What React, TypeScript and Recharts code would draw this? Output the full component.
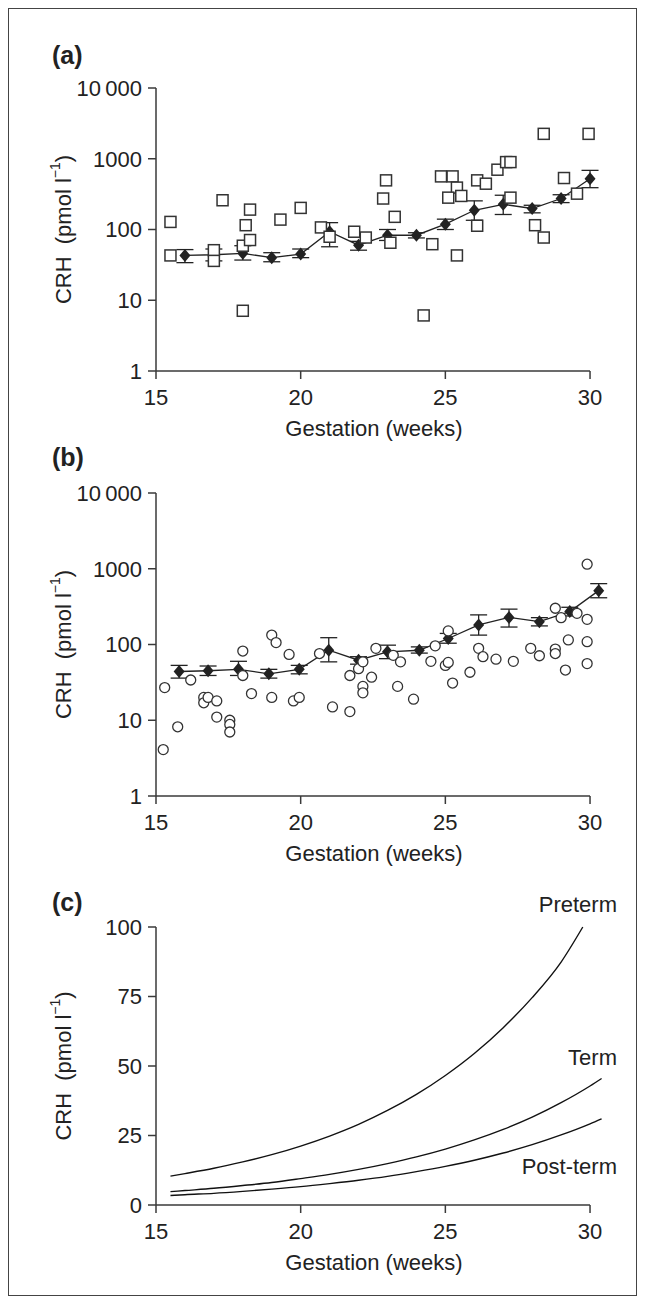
import React from 'react';
import { ScatterChart, Scatter, XAxis, YAxis, ErrorBar, LineChart, Line, Label, ReferenceLine } from 'recharts';

const FONT = '"Liberation Sans", Arial, Helvetica, sans-serif';
const INK = '#222';
const AXIS = '#3a3a3a';

const xTicks = [15, 20, 25, 30];
const logTicks = [1, 10, 100, 1000, 10000];
const linTicks = [0, 25, 50, 75, 100];

// Panel (a): individual values (squares)
const aPoints = [
  [15.5, 128], [15.5, 43], [17.0, 51], [17.0, 36], [17.3, 259], [18.0, 59], [18.0, 7.1],
  [18.1, 115], [18.25, 191], [18.25, 71], [19.3, 138], [20.0, 202], [20.7, 107], [21.0, 79],
  [21.85, 93], [22.25, 77], [22.95, 495], [22.85, 274], [23.25, 151], [23.1, 65], [24.25, 6.1],
  [24.55, 62], [24.85, 563], [25.25, 563], [25.4, 391], [25.1, 282], [25.55, 298], [25.4, 43],
  [26.1, 495], [26.4, 444], [26.1, 113], [26.8, 700], [27.1, 897], [27.25, 897], [27.25, 282],
  [28.4, 2249], [28.1, 115], [28.4, 77], [29.1, 534], [29.55, 321], [29.95, 2249],
];
// Panel (a): means with error bars
const aMeanX = [16, 17, 18, 19, 20, 21, 22, 23, 24, 25, 26, 27, 28, 29, 30];
const aMeanY = [43, 44, 46, 40, 45, 93, 60, 83, 83, 119, 187, 227, 198, 274, 522];
const aMeanLo = [34, 36, 37, 35, 40, 57, 51, 70, 76, 100, 135, 163, 172, 240, 390];
const aMeanHi = [52, 53, 59, 47, 53, 125, 68, 100, 90, 140, 254, 305, 220, 310, 685];

// Panel (b): individual values (circles)
const bPoints = [
  [15.25, 4.1], [15.3, 27], [15.75, 8.2], [16.2, 34], [16.65, 20], [16.65, 17], [16.8, 20],
  [17.1, 18], [17.1, 11], [17.55, 10], [17.55, 8.8], [17.55, 7.0], [18.0, 82], [18.0, 39],
  [18.3, 22.5], [19.0, 133], [19.15, 106], [19.0, 20], [19.6, 74], [19.75, 18], [19.95, 20],
  [20.65, 76], [21.1, 15], [21.7, 39], [21.7, 13], [22.0, 48], [22.15, 59], [22.15, 28],
  [22.15, 23], [22.45, 37], [22.6, 89], [23.2, 72], [23.45, 59], [23.35, 28], [23.9, 19],
  [24.5, 60], [24.65, 96], [25.0, 53], [25.1, 58], [25.1, 151], [25.25, 31], [25.85, 43],
  [26.15, 89], [26.3, 69], [26.75, 64], [27.35, 60], [27.95, 89], [28.25, 71], [28.8, 301],
  [28.8, 87], [28.8, 76], [29.0, 226], [29.25, 115], [29.15, 46], [29.55, 258], [29.9, 1148],
  [29.9, 215], [29.9, 109], [29.9, 56],
];
// Panel (b): means with error bars
const bMeanX = [15.8, 16.8, 17.85, 18.9, 19.95, 20.97, 22.0, 23.0, 24.1, 25.1, 26.15, 27.2, 28.25, 29.3, 30.3];
const bMeanY = [44, 45, 47, 41, 47, 84, 62, 80, 84, 120, 181, 228, 200, 272, 514];
const bMeanLo = [36, 39, 39, 36, 41, 59, 55, 65, 77, 104, 133, 170, 176, 238, 414];
const bMeanHi = [53, 52, 60, 47, 53, 123, 69, 98, 93, 140, 246, 293, 226, 310, 636];

// Panel (c): fitted curves
const cX = [15.5, 16, 17, 18, 19, 20, 21, 22, 23, 24, 25, 26, 27, 28, 29, 30, 30.4];
const pretermX = [15.5, 16, 17, 18, 19, 20, 21, 22, 23, 24, 25, 26, 27, 28, 29, 29.75];
const pretermY = [10.4, 11.3, 13.2, 15.5, 18.1, 21.2, 24.8, 29.0, 34.0, 39.8, 46.6, 54.5, 63.8, 74.6, 87.4, 100];
const termY = [4.8, 5.2, 6.0, 7.0, 8.1, 9.5, 11.0, 12.8, 14.9, 17.3, 20.1, 23.4, 27.2, 31.6, 36.8, 42.8, 45.5];
const postTermY = [3.4, 3.7, 4.2, 4.9, 5.7, 6.6, 7.7, 8.9, 10.3, 12.0, 13.9, 16.1, 18.7, 21.7, 25.2, 29.2, 31.0];

const toPts = (arr: number[][]) => arr.map(([x, y]) => ({ x, y }));
const toMeans = (xs: number[], ys: number[], lo: number[], hi: number[]) =>
  xs.map((x, i) => ({ x, y: ys[i], err: [ys[i] - lo[i], hi[i] - ys[i]] }));
const toLine = (xs: number[], ys: number[]) => xs.map((x, i) => ({ x, y: ys[i] }));

const aSq = toPts(aPoints);
const aMeans = toMeans(aMeanX, aMeanY, aMeanLo, aMeanHi);
const bCi = toPts(bPoints);
const bMeans = toMeans(bMeanX, bMeanY, bMeanLo, bMeanHi);
const preterm = toLine(pretermX, pretermY);
const term = toLine(cX, termY);
const postTerm = toLine(cX, postTermY);

const Diamond = (p: any) => {
  const { cx, cy } = p;
  return <polygon points={`${cx},${cy - 6.5} ${cx + 5.5},${cy} ${cx},${cy + 6.5} ${cx - 5.5},${cy}`} fill={INK} />;
};
const Square = (p: any) => {
  const { cx, cy } = p;
  return <rect x={cx - 5.5} y={cy - 5.5} width={11} height={11} fill="#fff" stroke="#333" strokeWidth={1.5} />;
};
const Circle = (p: any) => {
  const { cx, cy } = p;
  return <circle cx={cx} cy={cy} r={5} fill="#fff" stroke="#333" strokeWidth={1.3} />;
};

const yTitle = (x: number, y: number) => () => (
  <text x={x} y={y} transform={`rotate(-90 ${x} ${y})`} textAnchor="middle" dominantBaseline="central"
    fontSize={22} fill={INK} fontFamily={FONT}>
    {'CRH\u00a0\u00a0(pmol l'}
    <tspan dy={-8} fontSize={14}>−1</tspan>
    <tspan dy={8}>)</tspan>
  </text>
);

const xTitle = (baseline: number) => () => (
  <text x={365} y={baseline} textAnchor="middle" fontSize={22} fill={INK} fontFamily={FONT}>
    Gestation (weeks)
  </text>
);

const tickStyle = { fontSize: 22, fill: INK, fontFamily: FONT };
const logFmt = (v: number) => (v === 10000 ? '10\u2009000' : String(v));

const W = 627;
const X_DOMAIN: [number, number] = [15, 30.5];
const M_RIGHT = 31.5;

const xAxisEl = (chartHeight: number) => (
  <XAxis
    dataKey="x" type="number" domain={X_DOMAIN} ticks={xTicks} height={72}
    tick={tickStyle} tickSize={8} tickMargin={10}
    axisLine={false} tickLine={{ stroke: AXIS, strokeWidth: 1.5 }}
  >
    <Label content={xTitle(chartHeight - 7)} />
  </XAxis>
);

const xBaseLine = (y: number) => (
  <ReferenceLine segment={[{ x: 15, y }, { x: 30, y }]} stroke={AXIS} strokeWidth={1.5} ifOverflow="visible" />
);

const panelLabel = (text: string, top: number) => (
  <div style={{ position: 'absolute', left: 43, top, fontSize: 25, fontWeight: 'bold', lineHeight: '25px', color: INK, fontFamily: FONT }}>
    {text}
  </div>
);

const curveLabel = (text: string, top: number) => (
  <div style={{ position: 'absolute', left: 408, width: 200, top, textAlign: 'right', fontSize: 22, lineHeight: '22px', color: INK, fontFamily: FONT }}>
    {text}
  </div>
);

export default function App() {
  return (
    <div style={{ position: 'relative', width: W, height: 1286, border: '1px solid #444', fontFamily: FONT, background: '#fff' }}>
      {panelLabel('(a)', 34)}
      {panelLabel('(b)', 436)}
      {panelLabel('(c)', 881)}

      <div style={{ position: 'absolute', left: 0, top: 0 }}>
        <ScatterChart width={W} height={434} margin={{ top: 79, right: M_RIGHT, bottom: 0, left: 0 }}>
          {xAxisEl(434)}
          <YAxis
            dataKey="y" type="number" scale="log" domain={[1, 10000]} ticks={logTicks} width={147}
            tick={tickStyle} tickFormatter={logFmt} tickSize={8} tickMargin={6}
            axisLine={{ stroke: AXIS, strokeWidth: 1.5 }} tickLine={{ stroke: AXIS, strokeWidth: 1.5 }}
          >
            <Label content={yTitle(54, 220.5)} />
          </YAxis>
          {xBaseLine(1)}
          <Scatter data={aMeans} shape={Diamond} line={{ stroke: INK, strokeWidth: 1.3 }} lineType="joint" isAnimationActive={false}>
            <ErrorBar dataKey="err" direction="y" width={8.5} stroke={INK} strokeWidth={1.3} isAnimationActive={false} />
          </Scatter>
          <Scatter data={aSq} shape={Square} isAnimationActive={false} />
        </ScatterChart>
      </div>

      <div style={{ position: 'absolute', left: 0, top: 434 }}>
        <ScatterChart width={W} height={425} margin={{ top: 50, right: M_RIGHT, bottom: 0, left: 0 }}>
          {xAxisEl(425)}
          <YAxis
            dataKey="y" type="number" scale="log" domain={[1, 10000]} ticks={logTicks} width={147}
            tick={tickStyle} tickFormatter={logFmt} tickSize={8} tickMargin={6}
            axisLine={{ stroke: AXIS, strokeWidth: 1.5 }} tickLine={{ stroke: AXIS, strokeWidth: 1.5 }}
          >
            <Label content={yTitle(54, 201.5)} />
          </YAxis>
          {xBaseLine(1)}
          <Scatter data={bMeans} shape={Diamond} line={{ stroke: INK, strokeWidth: 1.3 }} lineType="joint" isAnimationActive={false}>
            <ErrorBar dataKey="err" direction="y" width={8.5} stroke={INK} strokeWidth={1.3} isAnimationActive={false} />
          </Scatter>
          <Scatter data={bCi} shape={Circle} isAnimationActive={false} />
        </ScatterChart>
      </div>

      <div style={{ position: 'absolute', left: 0, top: 868 }}>
        <LineChart width={W} height={400} margin={{ top: 50, right: M_RIGHT, bottom: 0, left: 0 }}>
          {xAxisEl(400)}
          <YAxis
            dataKey="y" type="number" domain={[0, 100]} ticks={linTicks} width={147}
            tick={tickStyle} tickSize={8} tickMargin={6}
            axisLine={{ stroke: AXIS, strokeWidth: 1.5 }} tickLine={{ stroke: AXIS, strokeWidth: 1.5 }}
          >
            <Label content={yTitle(54, 189)} />
          </YAxis>
          {xBaseLine(0)}
          <Line data={preterm} dataKey="y" type="monotone" stroke="#111" strokeWidth={1.4} dot={false} isAnimationActive={false} />
          <Line data={term} dataKey="y" type="monotone" stroke="#111" strokeWidth={1.4} dot={false} isAnimationActive={false} />
          <Line data={postTerm} dataKey="y" type="monotone" stroke="#111" strokeWidth={1.4} dot={false} isAnimationActive={false} />
        </LineChart>
      </div>

      {curveLabel('Preterm', 885)}
      {curveLabel('Term', 1038)}
      {curveLabel('Post-term', 1147)}
    </div>
  );
}
